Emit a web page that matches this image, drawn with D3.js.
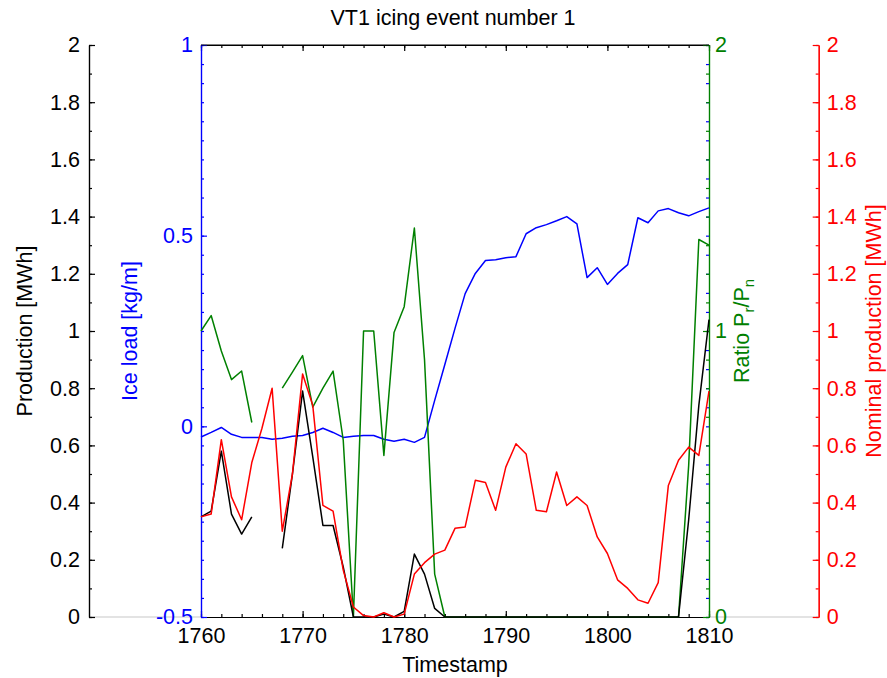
<!DOCTYPE html>
<html>
<head>
<meta charset="utf-8">
<script src="https://cdn.jsdelivr.net/npm/d3@7"></script>
<style>
  html, body { margin: 0; padding: 0; background: #fff; }
  svg { display: block; font-family: "Liberation Sans", Arial, sans-serif; }
</style>
</head>
<body>
<svg id="chart" width="887" height="678"></svg>
<script>
// ---------------- data ----------------
const timestamps = [1760,1761,1762,1763,1764,1765,1766,1767,1768,1769,
  1770,1771,1772,1773,1774,1775,1776,1777,1778,1779,
  1780,1781,1782,1783,1784,1785,1786,1787,1788,1789,
  1790,1791,1792,1793,1794,1795,1796,1797,1798,1799,
  1800,1801,1802,1803,1804,1805,1806,1807,1808,1809,1810];

// Production [MWh] (black, outer left axis)
const production = [0.35,0.37,0.58,0.36,0.29,0.35,null,null,0.24,0.50,
  0.79,0.56,0.32,0.32,0.175,0.0,0.0,0.0,0.01,0.0,
  0.02,0.22,0.15,0.03,0.0,0.0,0.0,0.0,0.0,0.0,
  0.0,0.0,0.0,0.0,0.0,0.0,0.0,0.0,0.0,0.0,
  0.0,0.0,0.0,0.0,0.0,0.0,0.0,0.0,0.34,0.74,1.04];

// Ice load [kg/m] (blue, inner left axis)
const iceLoad = [-0.028,-0.016,-0.003,-0.021,-0.029,-0.029,-0.029,-0.034,-0.031,-0.026,
  -0.024,-0.016,-0.005,-0.016,-0.029,-0.026,-0.024,-0.024,-0.034,-0.039,
  -0.034,-0.042,-0.029,0.068,0.162,0.257,0.348,0.401,0.435,0.437,
  0.442,0.445,0.505,0.521,0.529,0.539,0.55,0.531,0.39,0.416,
  0.372,0.401,0.424,0.547,0.534,0.565,0.571,0.56,0.552,0.563,0.573];

// Ratio Pr/Pn (green, inner right axis)
const ratio = [1.0,1.054,0.93,0.83,0.86,0.68,null,null,0.80,0.856,
  0.914,0.734,0.80,0.86,0.618,0.0,1.0,1.0,0.565,0.995,
  1.085,1.36,0.90,0.15,0.0,0.0,0.0,0.0,0.0,0.0,
  0.0,0.0,0.0,0.0,0.0,0.0,0.0,0.0,0.0,0.0,
  0.0,0.0,0.0,0.0,0.0,0.0,0.0,0.0,0.53,1.32,1.30];

// Nominal production [MWh] (red, outer right axis)
const nominal = [0.35,0.36,0.62,0.42,0.34,0.54,0.66,0.80,0.30,0.50,
  0.85,0.74,0.39,0.37,0.164,0.035,0.005,0.0,0.015,0.0,
  0.01,0.15,0.19,0.22,0.234,0.31,0.315,0.478,0.47,0.373,
  0.524,0.606,0.57,0.373,0.368,0.507,0.39,0.42,0.39,0.28,
  0.222,0.13,0.10,0.06,0.048,0.12,0.46,0.548,0.594,0.565,0.79];

// tick values
const xMajorTicks = [1760,1770,1780,1790,1800,1810];
const xMinorTicks = [1760,1762,1764,1766,1768,1770,1772,1774,1776,1778,1780,1782,1784,1786,1788,1790,1792,1794,1796,1798,1800,1802,1804,1806,1808,1810];
const prodTicks = [0,0.2,0.4,0.6,0.8,1,1.2,1.4,1.6,1.8,2];
const prodMinor = [0,0.1,0.2,0.3,0.4,0.5,0.6,0.7,0.8,0.9,1,1.1,1.2,1.3,1.4,1.5,1.6,1.7,1.8,1.9,2];
const iceTicks = [-0.5,0,0.5,1];
const iceMinor = [-0.5,-0.45,-0.4,-0.35,-0.3,-0.25,-0.2,-0.15,-0.1,-0.05,0,0.05,0.1,0.15,0.2,0.25,0.3,0.35,0.4,0.45,0.5,0.55,0.6,0.65,0.7,0.75,0.8,0.85,0.9,0.95,1];
const ratioTicks = [0,1,2];
const ratioMinor = prodMinor;

// ---------------- layout ----------------
const plotL = 201, plotR = 709, plotT = 45, plotB = 617;
const blackAxisX = 89, redAxisX = 818.7;
const FS = "21.5px";
const BLUE = "#0000ff", GREEN = "#008000", RED = "#ff0000", BLACK = "#000000";

const svg = d3.select("#chart");

const x = d3.scaleLinear().domain([1760,1810]).range([plotL, plotR]);
const yProd = d3.scaleLinear().domain([0,2]).range([plotB, plotT]);
const yIce = d3.scaleLinear().domain([-0.5,1]).range([plotB, plotT]);
const yRatio = d3.scaleLinear().domain([0,2]).range([plotB, plotT]);
const yNom = d3.scaleLinear().domain([0,2]).range([plotB, plotT]);

const fmt = d => String(d).replace("−","-");

// gray baselines linking outer axes
svg.append("line").attr("x1", blackAxisX).attr("x2", plotL).attr("y1", plotB).attr("y2", plotB)
  .attr("stroke", "#c8c8c8").attr("stroke-width", 1.2);
svg.append("line").attr("x1", plotR).attr("x2", redAxisX).attr("y1", plotB).attr("y2", plotB)
  .attr("stroke", "#c8c8c8").attr("stroke-width", 1.2);

function styleAxis(g, color) {
  g.selectAll("path").attr("stroke", color).attr("stroke-width", 1.2);
  g.selectAll("line").attr("stroke", color).attr("stroke-width", 1.2);
  g.selectAll("text").attr("fill", color).style("font-size", FS)
    .style("font-family", '"Liberation Sans", Arial, sans-serif');
}

// ---- x axis (bottom + top) ----
const gxMinor = svg.append("g").attr("transform", `translate(0,${plotB})`)
  .call(d3.axisBottom(x).tickValues(xMinorTicks).tickSize(-3).tickSizeOuter(0).tickFormat(""));
styleAxis(gxMinor, BLACK);
const gx = svg.append("g").attr("transform", `translate(0,${plotB})`)
  .call(d3.axisBottom(x).tickValues(xMajorTicks).tickSize(-6).tickSizeOuter(0).tickPadding(11).tickFormat(d3.format("d")));
styleAxis(gx, BLACK);
const gtMinor = svg.append("g").attr("transform", `translate(0,${plotT})`)
  .call(d3.axisTop(x).tickValues(xMinorTicks).tickSize(-3).tickSizeOuter(0).tickFormat(""));
styleAxis(gtMinor, BLACK);
const gt = svg.append("g").attr("transform", `translate(0,${plotT})`)
  .call(d3.axisTop(x).tickValues(xMajorTicks).tickSize(-6).tickSizeOuter(0).tickFormat(""));
styleAxis(gt, BLACK);

// ---- black production axis (outer left) ----
const gpMinor = svg.append("g").attr("transform", `translate(${blackAxisX},0)`)
  .call(d3.axisLeft(yProd).tickValues(prodMinor).tickSize(-3).tickSizeOuter(0).tickFormat(""));
styleAxis(gpMinor, BLACK);
const gp = svg.append("g").attr("transform", `translate(${blackAxisX},0)`)
  .call(d3.axisLeft(yProd).tickValues(prodTicks).tickSize(-6).tickSizeOuter(0).tickPadding(9).tickFormat(d => fmt(d)));
styleAxis(gp, BLACK);

// ---- blue ice axis (inner left) + mirrored ticks on right ----
const giMinor = svg.append("g").attr("transform", `translate(${plotL},0)`)
  .call(d3.axisLeft(yIce).tickValues(iceMinor).tickSize(-3).tickSizeOuter(0).tickFormat(""));
styleAxis(giMinor, BLUE);
const gi = svg.append("g").attr("transform", `translate(${plotL},0)`)
  .call(d3.axisLeft(yIce).tickValues(iceTicks).tickSize(-6).tickSizeOuter(0).tickPadding(8).tickFormat(d => fmt(d)));
styleAxis(gi, BLUE);
const giR = svg.append("g").attr("transform", `translate(${plotR},0)`)
  .call(d3.axisRight(yIce).tickValues(iceMinor).tickSize(-3).tickSizeOuter(0).tickFormat(""));
styleAxis(giR, BLUE);
giR.select("path").remove();

// ---- green ratio axis (inner right) ----
const grMinor = svg.append("g").attr("transform", `translate(${plotR},0)`)
  .call(d3.axisRight(yRatio).tickValues(ratioMinor).tickSize(-3).tickSizeOuter(0).tickFormat(""));
styleAxis(grMinor, GREEN);
const gr = svg.append("g").attr("transform", `translate(${plotR},0)`)
  .call(d3.axisRight(yRatio).tickValues(ratioTicks).tickSize(-6).tickSizeOuter(0).tickPadding(6).tickFormat(d => fmt(d)));
styleAxis(gr, GREEN);

// ---- red nominal axis (outer right) ----
const gnMinor = svg.append("g").attr("transform", `translate(${redAxisX},0)`)
  .call(d3.axisRight(yNom).tickValues(prodMinor).tickSize(-3).tickSizeOuter(0).tickFormat(""));
styleAxis(gnMinor, RED);
const gn = svg.append("g").attr("transform", `translate(${redAxisX},0)`)
  .call(d3.axisRight(yNom).tickValues(prodTicks).tickSize(-6).tickSizeOuter(0).tickPadding(8).tickFormat(d => fmt(d)));
styleAxis(gn, RED);

// top border line
svg.append("line").attr("x1", plotL).attr("x2", plotR).attr("y1", plotT).attr("y2", plotT)
  .attr("stroke", BLACK).attr("stroke-width", 1.2);

// ---------------- series ----------------
function drawSeries(values, yScale, color) {
  const data = timestamps.map((t, i) => ({t, v: values[i]}));
  const line = d3.line()
    .defined(d => d.v !== null)
    .x(d => x(d.t))
    .y(d => yScale(d.v));
  svg.append("path").datum(data)
    .attr("fill", "none")
    .attr("stroke", color)
    .attr("stroke-width", 1.5)
    .attr("stroke-linejoin", "round")
    .attr("d", line);
}
drawSeries(iceLoad, yIce, BLUE);
drawSeries(ratio, yRatio, GREEN);
drawSeries(production, yProd, BLACK);
drawSeries(nominal, yNom, RED);

// ---------------- labels ----------------
const cy = (plotT + plotB) / 2;
svg.append("text").attr("x", (plotL + plotR) / 2 - 2).attr("y", 25)
  .attr("text-anchor", "middle").style("font-size", FS).attr("fill", BLACK)
  .text("VT1 icing event number 1");

svg.append("text").attr("x", (plotL + plotR) / 2).attr("y", 672)
  .attr("text-anchor", "middle").style("font-size", FS).attr("fill", BLACK)
  .text("Timestamp");

function vLabel(xpos, color, txt) {
  return svg.append("text")
    .attr("transform", `translate(${xpos},${cy}) rotate(-90)`)
    .attr("text-anchor", "middle").style("font-size", FS).attr("fill", color)
    .text(txt);
}
vLabel(32, BLACK, "Production [MWh]");
vLabel(137, BLUE, "Ice load [kg/m]");
vLabel(881, RED, "Nominal production [MWh]");

const ratioLbl = svg.append("text")
  .attr("transform", `translate(749,${cy}) rotate(-90)`)
  .attr("text-anchor", "middle").style("font-size", FS).attr("fill", GREEN);
ratioLbl.append("tspan").text("Ratio P");
ratioLbl.append("tspan").attr("dy", 5).style("font-size", "15px").text("r");
ratioLbl.append("tspan").attr("dy", -5).text("/P");
ratioLbl.append("tspan").attr("dy", 5).style("font-size", "15px").text("n");
</script>
</body>
</html>
